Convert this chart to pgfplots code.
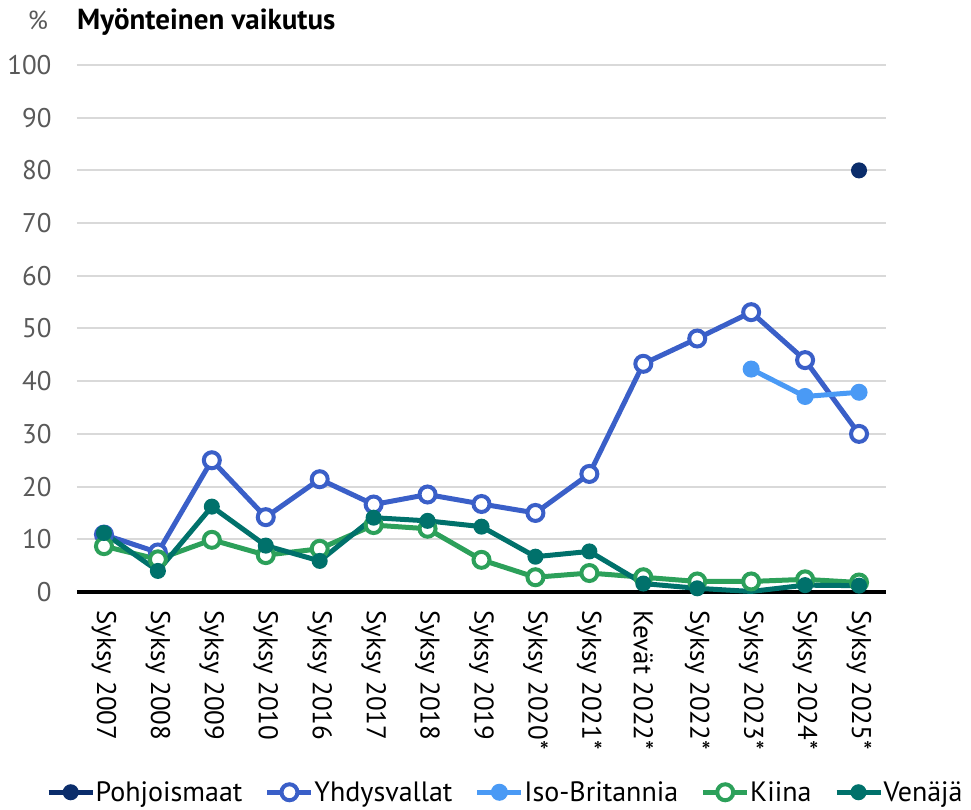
\documentclass[border=0pt]{standalone}
\usepackage{pgfplots}
\pgfplotsset{compat=1.18}
\usepackage{fontspec}
\setmainfont{PT Sans}
\definecolor{pohj}{HTML}{0B2D6B}
\definecolor{yhd}{HTML}{3A5FC8}
\definecolor{iso}{HTML}{4A9AF5}
\definecolor{kii}{HTML}{2CA05A}
\definecolor{ven}{HTML}{00716B}
\definecolor{gridc}{HTML}{D9D9D9}
\definecolor{tickc}{HTML}{595959}
\begin{document}
\begin{tikzpicture}[x=1pt,y=1pt]
\useasboundingbox (-77,-218) rectangle (894,592);
\begin{axis}[
  at={(0,0)}, anchor=south west,
  scale only axis, width=809pt, height=527pt,
  xmin=-0.5, xmax=14.5, ymin=0, ymax=100,
  axis line style={draw=none},
  major tick length=0pt,
  ytick={0,10,...,100},
  ymajorgrids, grid style={gridc, line width=2pt},
  extra y ticks={0}, extra y tick labels={},
  extra y tick style={grid style={black, line width=4pt}},
  yticklabel style={tickc, font=\fontsize{27}{27}\selectfont, xshift=-22pt},
  /pgf/number format/assume math mode=true,
  xtick={0,...,14},
  xticklabels={Syksy 2007,Syksy 2008,Syksy 2009,Syksy 2010,Syksy 2016,Syksy 2017,Syksy 2018,Syksy 2019,Syksy 2020*,Syksy 2021*,Kevät 2022*,Syksy 2022*,Syksy 2023*,Syksy 2024*,Syksy 2025*},
  xticklabel style={rotate=-90, anchor=west, font=\fontsize{27}{27}\selectfont, xshift=15pt},
  clip=false,
  legend style={at={(-0.042,-0.38)}, anchor=west, draw=none, fill=none,
    font=\fontsize{28}{28}\selectfont, legend columns=5,
    /tikz/every even column/.append style={column sep=22pt},
    /tikz/every odd column/.append style={column sep=0pt},
    /tikz/every node/.append style={inner xsep=0.5pt}},
  legend cell align=left,
  legend image code/.code={\draw[mark indices={2}] plot coordinates {(0pt,0pt) (22pt,0pt) (44pt,0pt)};},
]
\addplot[pohj, line width=5pt, mark=*, mark size=6.5pt, mark options={line width=3pt}]
  coordinates {(14,80)};
\addlegendentry{Pohjoismaat}
\addplot[yhd, line width=5pt, mark=*, mark size=8pt, mark options={fill=white, line width=4pt}]
  coordinates {(0,10.9) (1,7.5) (2,25) (3,14.2) (4,21.4) (5,16.6) (6,18.5) (7,16.7) (8,15.0) (9,22.4) (10,43.3) (11,48.1) (12,53.1) (13,44.0) (14,30.0)};
\addlegendentry{Yhdysvallat}
\addplot[iso, line width=5pt, mark=*, mark size=7pt, mark options={line width=3pt}]
  coordinates {(12,42.3) (13,37.1) (14,37.9)};
\addlegendentry{Iso-Britannia}
\addplot[kii, line width=5pt, mark=*, mark size=8pt, mark options={fill=white, line width=4pt}]
  coordinates {(0,8.7) (1,6.2) (2,9.9) (3,7.0) (4,8.2) (5,12.7) (6,12.0) (7,6.1) (8,2.8) (9,3.6) (10,2.8) (11,2.0) (12,2.0) (13,2.4) (14,1.8)};
\addlegendentry{Kiina}
\addplot[ven, line width=5pt, mark=*, mark size=6.5pt, mark options={line width=3pt}, mark indices={1,2,3,4,5,6,7,8,9,10,11,12,14,15}]
  coordinates {(0,11.2) (1,4.0) (2,16.2) (3,8.8) (4,5.9) (5,14.1) (6,13.5) (7,12.4) (8,6.7) (9,7.7) (10,1.6) (11,0.7) (12,0.1) (13,1.3) (14,1.2)};
\addlegendentry{Venäjä}
\end{axis}
\node[anchor=base, tickc, font=\fontsize{26}{26}\selectfont] at (-39,562) {\%};
\node[anchor=base west, inner sep=0pt, font=\fontsize{29}{29}\selectfont\bfseries] at (0,562) {Myönteinen vaikutus};
\end{tikzpicture}
\end{document}
